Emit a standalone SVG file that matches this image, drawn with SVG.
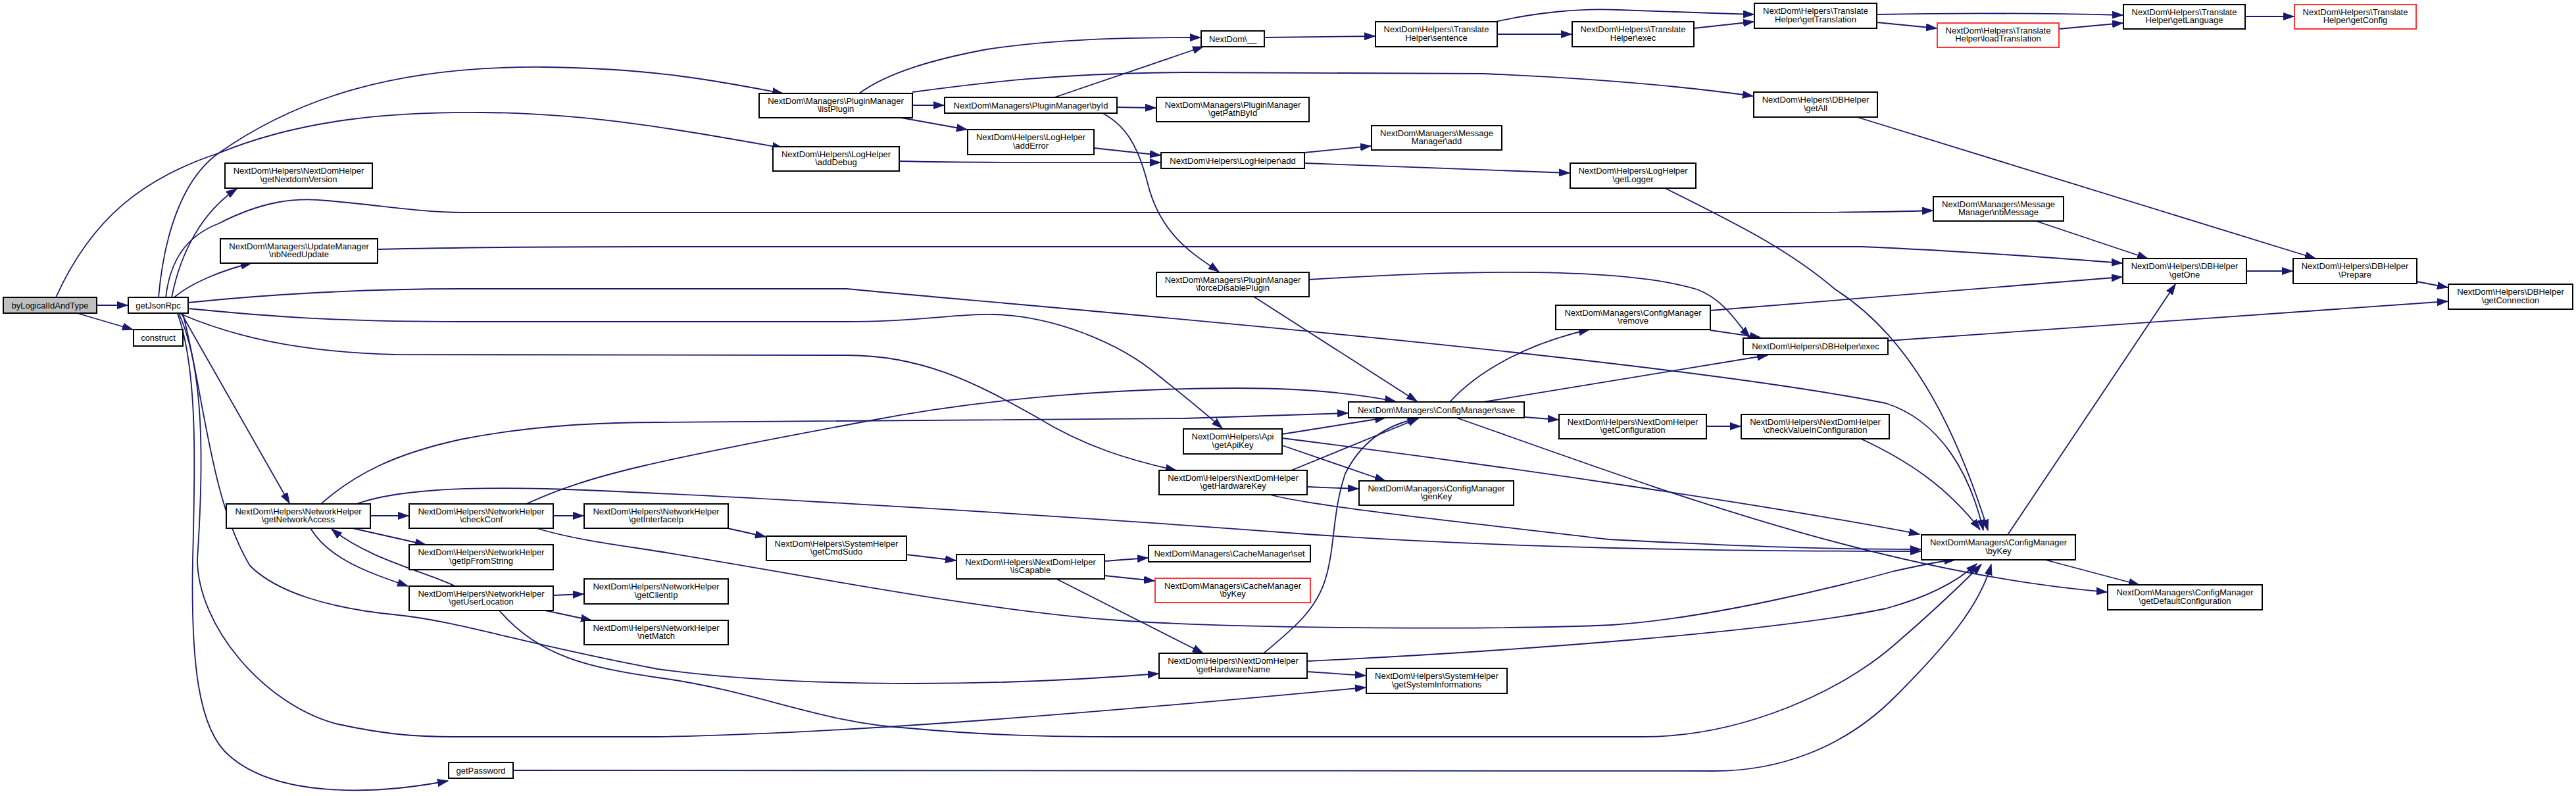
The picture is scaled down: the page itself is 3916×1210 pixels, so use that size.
<svg xmlns="http://www.w3.org/2000/svg" width="3916" height="1210" viewBox="0 0 3916 1210">
<defs>
<style>
.n rect{fill:#ffffff;stroke:#000000;stroke-width:2}
.n.g rect{fill:#bfbfbf}
.n.r rect{stroke:#ff3333}
.n text{font-family:"Liberation Sans",Arial,Helvetica,sans-serif;font-size:13px;text-anchor:middle;fill:#000000}
#edges path{fill:none;stroke:#191970;stroke-width:1.8;marker-end:url(#ah)}
</style>
<marker id="ah" markerUnits="userSpaceOnUse" markerWidth="17" markerHeight="12" refX="16" refY="6" orient="auto" viewBox="0 0 17 12">
<path d="M0,0.5 L16,6 L0,11.5 z" fill="#191970" stroke="#191970" stroke-width="1"/>
</marker>
</defs>
<rect x="0" y="0" width="3916" height="1210" fill="#ffffff"/>
<g id="edges">
<path d="M147,464 L194,464"/>
<path d="M117,476 L202,501"/>
<path d="M85,452 C140,330 220,270 332,233 C460,180 600,170 733,171 C900,172 1050,200 1190,225"/>
<path d="M241,452 C250,350 280,270 332,233 C450,150 600,100 829,102 C1000,104 1100,125 1190,142"/>
<path d="M261,452 C275,380 310,320 360,287"/>
<path d="M265,452 C290,430 340,410 382,400"/>
<path d="M252,452 C258,400 280,360 332,340 C400,305 450,300 497,305 C580,312 640,323 702,323 L2700,323 C2800,323 2880,322 2938,320"/>
<path d="M574,379 C700,376 850,375 1000,375 L2829,375 C2950,380 3100,390 3226,400"/>
<path d="M286,460 C400,448 550,439 700,439 L1287,439 C1500,460 2500,540 2867,613 C2950,640 2995,720 3015,806"/>
<path d="M286,469 C400,480 500,489 700,489 L1287,489 C1400,489 1450,477 1510,478 C1600,480 1700,520 1760,570 C1810,610 1840,635 1858,651"/>
<path d="M274,477 C350,510 450,535 600,539 L1287,540 C1400,540 1480,580 1574,633 C1650,680 1720,700 1788,715"/>
<path d="M276,477 L440,765"/>
<path d="M270,477 C300,560 297,700 293,850 C290,1000 300,1110 350,1150 C420,1210 560,1210 681,1187"/>
<path d="M272,477 C310,560 310,700 300,850 C300,950 400,1070 510,1100 C600,1120 650,1120 702,1120 L1000,1120 C1300,1115 1700,1080 2076,1045"/>
<path d="M278,477 C310,600 320,760 380,860 C420,900 500,925 606,935 C700,945 800,980 1000,1017 C1200,1045 1500,1045 1761,1024"/>
<path d="M563,784 L621,784"/>
<path d="M536,803 L647,828"/>
<path d="M472,803 C500,850 560,870 620,891"/>
<path d="M692,891 C650,870 560,850 504,804"/>
<path d="M488,766 C540,720 600,690 700,668 C800,648 900,642 1000,642 L1800,636 C1900,632 2000,629 2049,628"/>
<path d="M542,766 C600,745 700,740 829,743 C1000,748 1500,775 2000,813 C2300,833 2600,838 2920,838"/>
<path d="M841,784 L887,784"/>
<path d="M800,766 C900,720 1000,700 1319,640 C1500,605 1700,590 1880,590 C1980,590 2060,598 2121,610"/>
<path d="M816,803 C870,820 950,830 1000,838 C1200,870 1500,930 1701,943 C1900,957 2300,957 2450,950 C2600,940 2800,890 2880,868 C2930,857 2955,852 2972,851"/>
<path d="M1106,803 L1164,816"/>
<path d="M841,905 L887,903"/>
<path d="M829,928 L899,943"/>
<path d="M759,928 C820,1000 900,1015 1000,1030 C1150,1050 1250,1100 1383,1107 C1500,1118 1600,1120 1700,1120 L2497,1120 C2650,1120 2800,1050 2880,980 C2950,920 2990,880 3012,858"/>
<path d="M1378,843 L1453,852"/>
<path d="M1679,853 L1745,848"/>
<path d="M1679,875 L1755,883"/>
<path d="M1606,880 L1829,993"/>
<path d="M1921,993 C1960,960 2000,930 2015,880 C2030,830 2025,780 2045,720 C2070,670 2110,645 2156,636"/>
<path d="M1987,1005 C2300,990 2700,960 2867,925 C2940,905 2980,880 3005,857"/>
<path d="M1987,1021 L2076,1027"/>
<path d="M780,1171 L2606,1172 C2700,1172 2800,1140 2880,1060 C2960,980 3010,920 3027,858"/>
<path d="M1306,142 C1350,110 1420,90 1500,75 C1600,60 1700,57 1825,57"/>
<path d="M1387,140 C1500,125 1600,112 1800,110 L2255,112 C2400,118 2550,130 2665,146"/>
<path d="M1387,160 L1435,160"/>
<path d="M1370,179 L1470,197"/>
<path d="M1603,148 L1829,71"/>
<path d="M1698,163 L1757,164"/>
<path d="M1676,172 C1710,190 1730,220 1745,280 C1765,360 1820,390 1853,413"/>
<path d="M1663,225 L1764,236"/>
<path d="M1367,245 C1500,248 1650,247 1764,247"/>
<path d="M1983,232 L2084,222"/>
<path d="M1983,248 C2100,252 2250,258 2386,263"/>
<path d="M1922,57 L2090,55"/>
<path d="M2274,33 C2330,20 2400,12 2460,15 C2550,18 2600,20 2666,22"/>
<path d="M2276,52 L2389,52"/>
<path d="M2575,43 L2666,33"/>
<path d="M2853,22 C2950,20 3100,20 3227,23"/>
<path d="M2853,34 L2944,43"/>
<path d="M3130,44 L3227,35"/>
<path d="M3413,25 L3487,25"/>
<path d="M2823,178 L3520,393"/>
<path d="M3095,336 L3265,393"/>
<path d="M3415,412 L3485,412"/>
<path d="M3674,428 L3721,437"/>
<path d="M2870,518 L3721,458"/>
<path d="M2600,472 L3226,421"/>
<path d="M2600,502 L2676,513"/>
<path d="M2204,611 C2250,560 2330,520 2416,501"/>
<path d="M2255,611 L2687,540"/>
<path d="M2317,634 L2369,638"/>
<path d="M2594,648 L2646,648"/>
<path d="M2829,667 C2900,700 2960,740 3010,805"/>
<path d="M2214,635 C2500,735 2850,870 3203,900"/>
<path d="M3052,813 L3307,432"/>
<path d="M3109,851 L3252,889"/>
<path d="M1990,425 C2150,415 2450,400 2580,440 C2620,455 2640,490 2660,513"/>
<path d="M1906,451 L2154,610"/>
<path d="M2531,286 C2640,340 2720,380 2790,440 C2900,510 2970,640 3022,806"/>
<path d="M1949,660 L2106,635"/>
<path d="M1949,666 C2300,710 2700,770 2918,812"/>
<path d="M1949,677 L2106,731"/>
<path d="M1963,715 L2156,636"/>
<path d="M1987,740 L2065,743"/>
<path d="M1931,752 C2000,771 2255,797 2446,820 C2700,833 2800,835 2920,835"/>
</g>
<g id="n_byLogicalIdAndType" class="n g"><rect x="5" y="452" width="142" height="24"/><text x="76" y="468.5">byLogicalIdAndType</text></g>
<g id="n_getJsonRpc" class="n"><rect x="195" y="452" width="91" height="24"/><text x="240.5" y="468.5">getJsonRpc</text></g>
<g id="n_construct" class="n"><rect x="203" y="501" width="75" height="25"/><text x="240.5" y="518">construct</text></g>
<g id="n_getNextdomVersion" class="n"><rect x="342" y="248" width="224" height="38"/><text x="454" y="264">NextDom\Helpers\NextDomHelper</text><text x="454" y="276.7">\getNextdomVersion</text></g>
<g id="n_nbNeedUpdate" class="n"><rect x="335" y="363" width="239" height="37"/><text x="454.5" y="378.5">NextDom\Managers\UpdateManager</text><text x="454.5" y="391.2">\nbNeedUpdate</text></g>
<g id="n_getNetworkAccess" class="n"><rect x="344" y="766" width="219" height="37"/><text x="453.5" y="781.5">NextDom\Helpers\NetworkHelper</text><text x="453.5" y="794.2">\getNetworkAccess</text></g>
<g id="n_checkConf" class="n"><rect x="622" y="766" width="219" height="37"/><text x="731.5" y="781.5">NextDom\Helpers\NetworkHelper</text><text x="731.5" y="794.2">\checkConf</text></g>
<g id="n_getInterfaceIp" class="n"><rect x="888" y="766" width="219" height="37"/><text x="997.5" y="781.5">NextDom\Helpers\NetworkHelper</text><text x="997.5" y="794.2">\getInterfaceIp</text></g>
<g id="n_getIpFromString" class="n"><rect x="622" y="828" width="219" height="38"/><text x="731.5" y="844">NextDom\Helpers\NetworkHelper</text><text x="731.5" y="856.7">\getIpFromString</text></g>
<g id="n_getUserLocation" class="n"><rect x="622" y="891" width="219" height="37"/><text x="731.5" y="906.5">NextDom\Helpers\NetworkHelper</text><text x="731.5" y="919.2">\getUserLocation</text></g>
<g id="n_getClientIp" class="n"><rect x="888" y="880" width="219" height="38"/><text x="997.5" y="896">NextDom\Helpers\NetworkHelper</text><text x="997.5" y="908.7">\getClientIp</text></g>
<g id="n_netMatch" class="n"><rect x="888" y="943" width="219" height="37"/><text x="997.5" y="958.5">NextDom\Helpers\NetworkHelper</text><text x="997.5" y="971.2">\netMatch</text></g>
<g id="n_getPassword" class="n"><rect x="682" y="1159" width="98" height="24"/><text x="731" y="1175.5">getPassword</text></g>
<g id="n_listPlugin" class="n"><rect x="1154" y="142" width="233" height="37"/><text x="1270.5" y="157.5">NextDom\Managers\PluginManager</text><text x="1270.5" y="170.2">\listPlugin</text></g>
<g id="n_byId" class="n"><rect x="1436" y="148" width="262" height="24"/><text x="1567" y="164.5">NextDom\Managers\PluginManager\byId</text></g>
<g id="n_getPathById" class="n"><rect x="1758" y="148" width="232" height="37"/><text x="1874" y="163.5">NextDom\Managers\PluginManager</text><text x="1874" y="176.2">\getPathById</text></g>
<g id="n_addError" class="n"><rect x="1471" y="197" width="192" height="38"/><text x="1567" y="213">NextDom\Helpers\LogHelper</text><text x="1567" y="225.7">\addError</text></g>
<g id="n_addDebug" class="n"><rect x="1175" y="223" width="192" height="37"/><text x="1271" y="238.5">NextDom\Helpers\LogHelper</text><text x="1271" y="251.2">\addDebug</text></g>
<g id="n_logAdd" class="n"><rect x="1765" y="232" width="218" height="24"/><text x="1874" y="248.5">NextDom\Helpers\LogHelper\add</text></g>
<g id="n_translate" class="n"><rect x="1826" y="47" width="96" height="24"/><text x="1874" y="63.5">NextDom\__</text></g>
<g id="n_forceDisablePlugin" class="n"><rect x="1758" y="414" width="232" height="37"/><text x="1874" y="429.5">NextDom\Managers\PluginManager</text><text x="1874" y="442.2">\forceDisablePlugin</text></g>
<g id="n_sentence" class="n"><rect x="2091" y="33" width="185" height="38"/><text x="2183.5" y="49">NextDom\Helpers\Translate</text><text x="2183.5" y="61.7">Helper\sentence</text></g>
<g id="n_thExec" class="n"><rect x="2390" y="33" width="185" height="38"/><text x="2482.5" y="49">NextDom\Helpers\Translate</text><text x="2482.5" y="61.7">Helper\exec</text></g>
<g id="n_getTranslation" class="n"><rect x="2667" y="5" width="186" height="38"/><text x="2760" y="21">NextDom\Helpers\Translate</text><text x="2760" y="33.7">Helper\getTranslation</text></g>
<g id="n_loadTranslation" class="n r"><rect x="2945" y="35" width="185" height="37"/><text x="3037.5" y="50.5">NextDom\Helpers\Translate</text><text x="3037.5" y="63.2">Helper\loadTranslation</text></g>
<g id="n_getLanguage" class="n"><rect x="3228" y="7" width="185" height="37"/><text x="3320.5" y="22.5">NextDom\Helpers\Translate</text><text x="3320.5" y="35.2">Helper\getLanguage</text></g>
<g id="n_getConfig" class="n r"><rect x="3488" y="7" width="185" height="37"/><text x="3580.5" y="22.5">NextDom\Helpers\Translate</text><text x="3580.5" y="35.2">Helper\getConfig</text></g>
<g id="n_getAll" class="n"><rect x="2666" y="140" width="188" height="38"/><text x="2760" y="156">NextDom\Helpers\DBHelper</text><text x="2760" y="168.7">\getAll</text></g>
<g id="n_messageAdd" class="n"><rect x="2085" y="191" width="198" height="37"/><text x="2184" y="206.5">NextDom\Managers\Message</text><text x="2184" y="219.2">Manager\add</text></g>
<g id="n_getLogger" class="n"><rect x="2387" y="248" width="191" height="38"/><text x="2482.5" y="264">NextDom\Helpers\LogHelper</text><text x="2482.5" y="276.7">\getLogger</text></g>
<g id="n_nbMessage" class="n"><rect x="2939" y="299" width="198" height="37"/><text x="3038" y="314.5">NextDom\Managers\Message</text><text x="3038" y="327.2">Manager\nbMessage</text></g>
<g id="n_getOne" class="n"><rect x="3227" y="393" width="188" height="38"/><text x="3321" y="409">NextDom\Helpers\DBHelper</text><text x="3321" y="421.7">\getOne</text></g>
<g id="n_prepare" class="n"><rect x="3486" y="393" width="188" height="38"/><text x="3580" y="409">NextDom\Helpers\DBHelper</text><text x="3580" y="421.7">\Prepare</text></g>
<g id="n_getConnection" class="n"><rect x="3722" y="432" width="189" height="38"/><text x="3816.5" y="448">NextDom\Helpers\DBHelper</text><text x="3816.5" y="460.7">\getConnection</text></g>
<g id="n_remove" class="n"><rect x="2365" y="464" width="235" height="37"/><text x="2482.5" y="479.5">NextDom\Managers\ConfigManager</text><text x="2482.5" y="492.2">\remove</text></g>
<g id="n_dbExec" class="n"><rect x="2650" y="514" width="220" height="25"/><text x="2760" y="531">NextDom\Helpers\DBHelper\exec</text></g>
<g id="n_save" class="n"><rect x="2050" y="611" width="267" height="24"/><text x="2183.5" y="627.5">NextDom\Managers\ConfigManager\save</text></g>
<g id="n_getConfiguration" class="n"><rect x="2370" y="630" width="224" height="37"/><text x="2482" y="645.5">NextDom\Helpers\NextDomHelper</text><text x="2482" y="658.2">\getConfiguration</text></g>
<g id="n_checkValueInConfiguration" class="n"><rect x="2647" y="630" width="225" height="37"/><text x="2759.5" y="645.5">NextDom\Helpers\NextDomHelper</text><text x="2759.5" y="658.2">\checkValueInConfiguration</text></g>
<g id="n_genKey" class="n"><rect x="2066" y="731" width="235" height="37"/><text x="2183.5" y="746.5">NextDom\Managers\ConfigManager</text><text x="2183.5" y="759.2">\genKey</text></g>
<g id="n_getApiKey" class="n"><rect x="1799" y="652" width="150" height="38"/><text x="1874" y="668">NextDom\Helpers\Api</text><text x="1874" y="680.7">\getApiKey</text></g>
<g id="n_getHardwareKey" class="n"><rect x="1762" y="715" width="225" height="37"/><text x="1874.5" y="730.5">NextDom\Helpers\NextDomHelper</text><text x="1874.5" y="743.2">\getHardwareKey</text></g>
<g id="n_getCmdSudo" class="n"><rect x="1165" y="815" width="213" height="37"/><text x="1271.5" y="830.5">NextDom\Helpers\SystemHelper</text><text x="1271.5" y="843.2">\getCmdSudo</text></g>
<g id="n_isCapable" class="n"><rect x="1454" y="843" width="225" height="37"/><text x="1566.5" y="858.5">NextDom\Helpers\NextDomHelper</text><text x="1566.5" y="871.2">\isCapable</text></g>
<g id="n_cacheSet" class="n"><rect x="1746" y="829" width="246" height="25"/><text x="1869" y="846">NextDom\Managers\CacheManager\set</text></g>
<g id="n_cacheByKey" class="n r"><rect x="1756" y="879" width="236" height="37"/><text x="1874" y="894.5">NextDom\Managers\CacheManager</text><text x="1874" y="907.2">\byKey</text></g>
<g id="n_getHardwareName" class="n"><rect x="1762" y="993" width="225" height="38"/><text x="1874.5" y="1009">NextDom\Helpers\NextDomHelper</text><text x="1874.5" y="1021.7">\getHardwareName</text></g>
<g id="n_getSystemInformations" class="n"><rect x="2077" y="1016" width="214" height="38"/><text x="2184" y="1032">NextDom\Helpers\SystemHelper</text><text x="2184" y="1044.7">\getSystemInformations</text></g>
<g id="n_configByKey" class="n"><rect x="2921" y="813" width="234" height="38"/><text x="3038" y="829">NextDom\Managers\ConfigManager</text><text x="3038" y="841.7">\byKey</text></g>
<g id="n_getDefaultConfiguration" class="n"><rect x="3204" y="889" width="235" height="38"/><text x="3321.5" y="905">NextDom\Managers\ConfigManager</text><text x="3321.5" y="917.7">\getDefaultConfiguration</text></g>
</svg>
